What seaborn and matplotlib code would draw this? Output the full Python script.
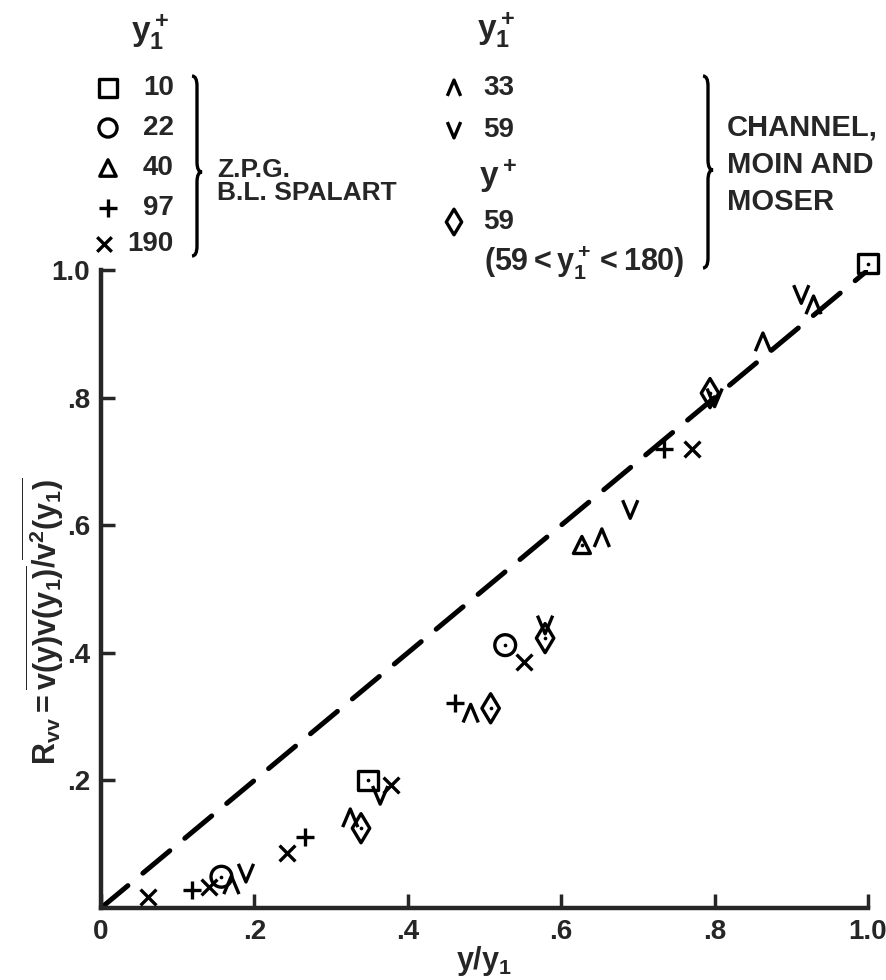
import matplotlib
matplotlib.use("Agg")
import matplotlib.pyplot as plt
import seaborn as sns
from matplotlib.path import Path
from matplotlib.patches import PathPatch

# --- estilo ---
sns.set_style("ticks")
plt.rcParams["font.family"] = ["Liberation Sans", "DejaVu Sans"]
plt.rcParams["font.weight"] = "bold"
plt.rcParams["mathtext.fontset"] = "custom"
plt.rcParams["mathtext.rm"] = "Liberation Sans:bold"
plt.rcParams["mathtext.it"] = "Liberation Sans:bold"
plt.rcParams["mathtext.bf"] = "Liberation Sans:bold"
plt.rcParams["mathtext.default"] = "rm"

# --- datos ---
# Z.P.G. B.L. (Spalart), y1+ = 10, 22, 40, 97, 190
zpg10_x = [0.348, 1.0]
zpg10_y = [0.200, 1.010]
zpg22_x = [0.157, 0.527]
zpg22_y = [0.049, 0.412]
zpg40_x = [0.627]
zpg40_y = [0.569]
zpg97_x = [0.119, 0.266, 0.461, 0.734]
zpg97_y = [0.028, 0.111, 0.321, 0.720]
zpg190_x = [0.061, 0.141, 0.242, 0.378, 0.552, 0.771]
zpg190_y = [0.017, 0.033, 0.086, 0.193, 0.386, 0.720]
# Channel (Moin and Moser), y1+ = 33, 59 and y+ = 59
ch33_x = [0.170, 0.325, 0.482, 0.653, 0.863, 0.929]
ch33_y = [0.036, 0.141, 0.305, 0.580, 0.887, 0.945]
ch59_x = [0.189, 0.364, 0.579, 0.690, 0.800, 0.913]
ch59_y = [0.055, 0.177, 0.444, 0.625, 0.800, 0.962]
chd_x = [0.339, 0.508, 0.579, 0.794]
chd_y = [0.125, 0.313, 0.423, 0.807]
# linea R_vv = y/y1
diag_x = [0.0, 1.0]
diag_y = [0.0, 1.0]

tick_vals = [0.0, 0.2, 0.4, 0.6, 0.8, 1.0]
tick_text = ["0", ".2", ".4", ".6", ".8", "1.0"]

UP = [(-0.42, -0.5), (0.0, 0.5), (0.42, -0.5)]
DOWN = [(-0.42, 0.5), (0.0, -0.5), (0.42, 0.5)]
LW = 2.4

# (x, y, marker, size, open marker, center dot)
series = [
    (zpg10_x, zpg10_y, "s", 200, True, True),
    (zpg22_x, zpg22_y, "o", 225, True, True),
    (zpg40_x, zpg40_y, "^", 150, True, True),
    (zpg97_x, zpg97_y, "+", 170, False, False),
    (zpg190_x, zpg190_y, "x", 130, False, False),
    (ch33_x, ch33_y, UP, 170, True, False),
    (ch59_x, ch59_y, DOWN, 170, True, False),
    (chd_x, chd_y, "d", 220, True, True),
]

fig = plt.figure(figsize=(8.86, 9.8), dpi=100)
ax = fig.add_axes([101 / 886, 72 / 980, 767 / 886, 638 / 980])

sns.lineplot(x=diag_x, y=diag_y, ax=ax, color="black", lw=3.6,
             linestyle=(0, (7.0, 3.9)), dash_capstyle="round", legend=False)

for xs, ys, m, s, is_open, dot in series:
    if is_open:
        sns.scatterplot(x=xs, y=ys, ax=ax, marker=m, s=s, facecolors="none",
                        edgecolors="black", linewidths=LW, clip_on=False, zorder=4)
    else:
        sns.scatterplot(x=xs, y=ys, ax=ax, marker=m, s=s, color="black",
                        linewidths=LW, clip_on=False, zorder=4)
    if dot:
        sns.scatterplot(x=xs, y=ys, ax=ax, marker="o", s=7, color="black",
                        linewidth=0, clip_on=False, zorder=5)

ax.set_xlim(0, 1)
ax.set_ylim(0, 1)
ax.set_xticks(tick_vals)
ax.set_xticklabels(tick_text)
ax.set_yticks(tick_vals[1:])
ax.set_yticklabels(tick_text[1:])
sns.despine(ax=ax)
for sp in ["left", "bottom"]:
    ax.spines[sp].set_linewidth(3.2)
ax.tick_params(direction="in", length=10, width=2.5, labelsize=20, pad=8)
for lab in ax.get_xticklabels() + ax.get_yticklabels():
    lab.set_fontweight("bold")

ax.set_xlabel(r"$\mathrm{y/y_1}$", fontsize=22)
ax.xaxis.set_label_coords(0.5, -0.056)
ax.set_ylabel(r"$\mathrm{R_{vv}} = \overline{\mathrm{v(y)v(y_1)}}/\overline{\mathrm{v^2(y_1)}}$",
              fontsize=22)
ax.yaxis.set_label_coords(-0.045, 0.45)

# --- leyenda (coordenadas en pixeles) ---
lax = fig.add_axes([0, 0, 1, 1])
lax.set_xlim(0, 886)
lax.set_ylim(980, 0)
lax.axis("off")
lax.set_zorder(3)

FS = 20
lax.text(150, 32, r"$\mathrm{y}_1^+$", fontsize=24, ha="center", va="center")
left_rows = [("s", 150, "10", 88), ("o", 170, "22", 128), ("^", 140, "40", 168),
             ("+", 160, "97", 208), ("x", 110, "190", 244)]
for m, s, txt, yy in left_rows:
    xx = 104 if txt == "190" else 108
    if m in ["+", "x"]:
        lax.scatter([xx], [yy], marker=m, s=s, color="black", linewidths=2.4)
    else:
        lax.scatter([xx], [yy], marker=m, s=s, facecolors="none",
                    edgecolors="black", linewidths=2.4)
    lax.text(174, yy, txt, fontsize=FS, ha="right", va="center")

lax.text(217, 170, "Z.P.G.", fontsize=19, ha="left", va="center")
lax.text(217, 193, "B.L. SPALART", fontsize=19, ha="left", va="center")

lax.text(496, 30, r"$\mathrm{y}_1^+$", fontsize=24, ha="center", va="center")
right_rows = [(UP, "33", 88), (DOWN, "59", 130), ("d", "59", 222)]
for m, txt, yy in right_rows:
    lax.scatter([454], [yy], marker=m, s=170 if m == "d" else 130,
                facecolors="none", edgecolors="black", linewidths=2.4)
    lax.text(514, yy, txt, fontsize=FS, ha="right", va="center")
lax.text(498, 176, r"$\mathrm{y}^+$", fontsize=24, ha="center", va="center")
lax.text(484, 262, r"$(59 < \mathrm{y}_1^+ < 180)$", fontsize=22, ha="left", va="center")

lax.text(727, 128, "CHANNEL,", fontsize=21, ha="left", va="center")
lax.text(727, 165, "MOIN AND", fontsize=21, ha="left", va="center")
lax.text(727, 202, "MOSER", fontsize=21, ha="left", va="center")


def brace(x0, ytop, ybot, ymid, d=5, r=10):
    verts = [(x0, ytop), (x0 + d, ytop), (x0 + d, ytop + r),
             (x0 + d, ymid - r),
             (x0 + d, ymid), (x0 + 2 * d, ymid),
             (x0 + d, ymid), (x0 + d, ymid + r),
             (x0 + d, ybot - r),
             (x0 + d, ybot), (x0, ybot)]
    codes = [Path.MOVETO, Path.CURVE3, Path.CURVE3,
             Path.LINETO,
             Path.CURVE3, Path.CURVE3,
             Path.CURVE3, Path.CURVE3,
             Path.LINETO,
             Path.CURVE3, Path.CURVE3]
    lax.add_patch(PathPatch(Path(verts, codes), fill=False, lw=2.4, color="black"))


brace(192, 76, 256, 172)
brace(703, 76, 268, 170)

fig.savefig("out.png", dpi=100)
